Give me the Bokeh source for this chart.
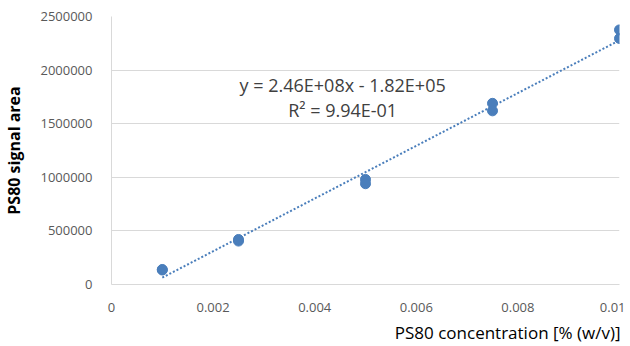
from bokeh.plotting import figure
from bokeh.models import Range1d, FixedTicker, Label, Title
from bokeh.embed import file_html
from bokeh.resources import INLINE

# data
conc = [0.001, 0.001, 0.0025, 0.0025, 0.005, 0.005, 0.0075, 0.0075, 0.01, 0.01]
area = [140000, 135000, 405000, 420000, 980000, 940000, 1690000, 1620000, 2375000, 2295000]
slope = 2.46e8
intercept = -1.82e5
trend_x = [0.001, 0.01]
x_ticks = [0, 0.002, 0.004, 0.006, 0.008, 0.01]
x_tick_labels = ["0", "0.002", "0.004", "0.006", "0.008", "0.01"]
y_ticks = [0, 500000, 1000000, 1500000, 2000000, 2500000]
y_tick_labels = ["0", "500000", "1000000", "1500000", "2000000", "2500000"]
eq_text = "y = 2.46E+08x - 1.82E+05"
r2_text = "R² = 9.94E-01"

FONT = "Open Sans"
BLUE = "#4A7EBB"

p = figure(frame_width=508, frame_height=268, output_backend="svg", toolbar_location=None,
           x_range=Range1d(0, 0.01), y_range=Range1d(0, 2500000),
           min_border_left=100, min_border_right=6, min_border_top=16, min_border_bottom=0)
p.outline_line_color = None
p.background_fill_color = "white"
p.border_fill_color = "white"

p.xgrid.visible = False
p.ygrid.ticker = FixedTicker(ticks=y_ticks)
p.ygrid.grid_line_color = "#d9d9d9"
p.ygrid.grid_line_width = 1

p.xaxis.ticker = FixedTicker(ticks=x_ticks)
p.xaxis.major_label_overrides = {t: l for t, l in zip(x_ticks, x_tick_labels)}
p.yaxis.ticker = FixedTicker(ticks=y_ticks)
p.yaxis.major_label_overrides = {t: l for t, l in zip(y_ticks, y_tick_labels)}

for ax in (p.xaxis, p.yaxis):
    ax.axis_line_color = "#d9d9d9"
    ax.major_tick_line_color = None
    ax.minor_tick_line_color = None
    ax.major_label_text_font = FONT
    ax.major_label_text_font_size = "13px"
    ax.major_label_text_color = "#595959"

p.xaxis.major_label_standoff = 12
p.yaxis.major_label_standoff = 13

p.yaxis.axis_label = "PS80 signal area"
p.yaxis.axis_label_text_font = FONT
p.yaxis.axis_label_text_font_style = "bold"
p.yaxis.axis_label_text_font_size = "16px"
p.yaxis.axis_label_text_color = "black"
p.yaxis.axis_label_standoff = 12

# trendline
trend_y = [slope * xv + intercept for xv in trend_x]
p.line(trend_x, trend_y, line_color=BLUE, line_width=2, line_dash="2 2")

# points
p.scatter(conc, area, size=10, fill_color=BLUE, line_color=BLUE)

# equation labels
p.add_layout(Label(x=0.00455, y=1865000, text=eq_text, text_align="center",
                   text_baseline="middle", text_font=FONT, text_font_size="18px",
                   text_color="#404040"))
p.add_layout(Label(x=0.00455, y=1632000, text=r2_text, text_align="center",
                   text_baseline="middle", text_font=FONT, text_font_size="18px",
                   text_color="#404040"))

# x axis title (right aligned, below the axis)
p.add_layout(Title(text="PS80 concentration [% (w/v)]", align="right", offset=-1,
                   standoff=8, text_font=FONT, text_font_size="17px",
                   text_font_style="normal", text_color="black"), "below")

open("out.html", "w").write(file_html(p, INLINE))
